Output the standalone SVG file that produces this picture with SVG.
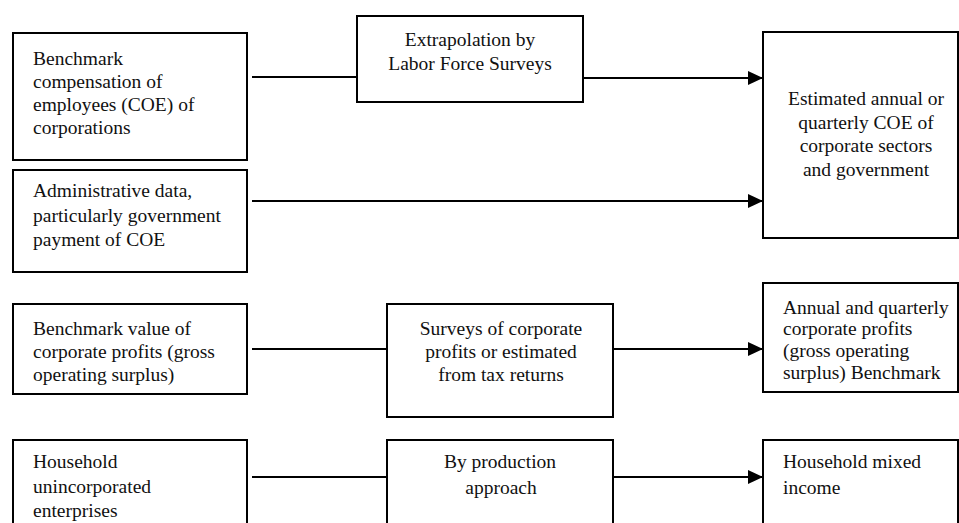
<svg xmlns="http://www.w3.org/2000/svg" width="959" height="523" viewBox="0 0 959 523">
<defs>
<style>
.box{fill:#fff;stroke:#000;stroke-width:2}
.t{font-family:"Liberation Serif","Times New Roman",serif;font-size:19.5px;fill:#111}
.c{text-anchor:middle}
.ln{stroke:#000;stroke-width:2;fill:none}
</style>
<marker id="ah" markerWidth="16" markerHeight="14" refX="15" refY="7" orient="auto" markerUnits="userSpaceOnUse">
<path d="M0,0 L15,7 L0,14 Z" fill="#000"/>
</marker>
</defs>
<rect width="959" height="523" fill="#fff"/>
<g id="connectors">
<line class="ln" x1="252" y1="77" x2="357" y2="77"/>
<line class="ln" x1="583" y1="78" x2="763" y2="78" marker-end="url(#ah)"/>
<line class="ln" x1="252" y1="201" x2="763" y2="201" marker-end="url(#ah)"/>
<line class="ln" x1="252" y1="349" x2="387" y2="349"/>
<line class="ln" x1="613" y1="349" x2="763" y2="349" marker-end="url(#ah)"/>
<line class="ln" x1="252" y1="477" x2="387" y2="477"/>
<line class="ln" x1="613" y1="477" x2="763" y2="477" marker-end="url(#ah)"/>
</g>
<g id="benchmark-coe">
<rect class="box" x="13" y="33" width="234" height="127"/>
<text class="t" x="33" y="65">Benchmark</text>
<text class="t" x="33" y="88">compensation of</text>
<text class="t" x="33" y="110.5">employees (COE) of</text>
<text class="t" x="33" y="133.5">corporations</text>
</g>
<g id="admin-data">
<rect class="box" x="13" y="170" width="234" height="102"/>
<text class="t" x="33" y="197">Administrative data,</text>
<text class="t" x="33" y="221.5">particularly government</text>
<text class="t" x="33" y="246">payment of COE</text>
</g>
<g id="extrapolation">
<rect class="box" x="357" y="16" width="226" height="86"/>
<text class="t c" x="470" y="46">Extrapolation by</text>
<text class="t c" x="470" y="69.5">Labor Force Surveys</text>
</g>
<g id="estimated-coe">
<rect class="box" x="763" y="32" width="195" height="206"/>
<text class="t c" x="866" y="105">Estimated annual or</text>
<text class="t c" x="866" y="128.5">quarterly COE of</text>
<text class="t c" x="866" y="152">corporate sectors</text>
<text class="t c" x="866" y="175.5">and government</text>
</g>
<g id="benchmark-profits">
<rect class="box" x="13" y="304" width="234" height="90"/>
<text class="t" x="33" y="335">Benchmark value of</text>
<text class="t" x="33" y="358">corporate profits (gross</text>
<text class="t" x="33" y="380.5">operating surplus)</text>
</g>
<g id="surveys">
<rect class="box" x="387" y="304" width="226" height="113"/>
<text class="t c" x="501" y="334.5">Surveys of corporate</text>
<text class="t c" x="501" y="358">profits or estimated</text>
<text class="t c" x="501" y="381">from tax returns</text>
</g>
<g id="annual-profits">
<rect class="box" x="763" y="283" width="195" height="109"/>
<text class="t" x="783" y="313.5">Annual and quarterly</text>
<text class="t" x="783" y="335">corporate profits</text>
<text class="t" x="783" y="357">(gross operating</text>
<text class="t" x="783" y="379">surplus) Benchmark</text>
</g>
<g id="household-enterprises">
<rect class="box" x="13" y="440" width="234" height="100"/>
<text class="t" x="33" y="468">Household</text>
<text class="t" x="33" y="492.5">unincorporated</text>
<text class="t" x="33" y="517">enterprises</text>
</g>
<g id="production">
<rect class="box" x="387" y="440" width="226" height="100"/>
<text class="t c" x="500" y="468">By production</text>
<text class="t c" x="501" y="493.5">approach</text>
</g>
<g id="mixed-income">
<rect class="box" x="763" y="440" width="195" height="100"/>
<text class="t" x="783" y="467.5">Household mixed</text>
<text class="t" x="783" y="494">income</text>
</g>
</svg>
